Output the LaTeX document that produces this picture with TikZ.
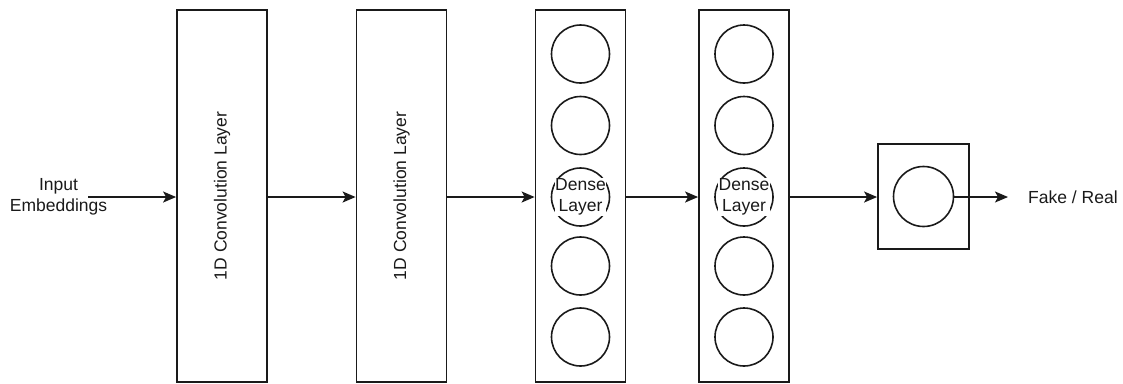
\documentclass[tikz,border=0pt]{standalone}
\usepackage{fontspec}
\setmainfont{Liberation Sans}
\usetikzlibrary{arrows.meta}
\definecolor{ink}{HTML}{1A1A1A}
\begin{document}
\begin{tikzpicture}[x=1pt,y=-1pt,
  every node/.style={font=\fontsize{17.5}{20.5}\selectfont, text=ink},
  layerbox/.style={draw=ink, line width=1.8pt, minimum width=90pt, minimum height=372pt, inner sep=0pt},
  neuron/.style={draw=ink, line width=1.6pt, circle, minimum size=58pt, inner sep=0pt},
  conn/.style={draw=ink, line width=1.6pt, -{Stealth[length=13pt,width=11pt,inset=3pt]}},
  lbl/.style={align=center, inner sep=0pt}
]
\useasboundingbox (0,0) rectangle (1123,383);

% layer boxes
\node[layerbox] (c1) at (222,196) {};
\node[layerbox] (c2) at (401.5,196) {};
\node[layerbox] (d1) at (580.5,196) {};
\node[layerbox] (d2) at (744,196) {};
\node[draw=ink, line width=1.8pt, minimum width=91pt, minimum height=105pt, inner sep=0pt] (o) at (923.5,196.5) {};

\node[rotate=90, inner sep=0pt] (c1t) at (c1.center) {1D Convolution Layer};
\node[rotate=90, inner sep=0pt] (c2t) at (c2.center) {1D Convolution Layer};

% dense 1 neurons
\node[neuron] (a1) at (580.5,54) {};
\node[neuron] (a2) at (580.5,125.5) {};
\node[neuron] (a3) at (580.5,197) {};
\node[neuron] (a4) at (580.5,266) {};
\node[neuron] (a5) at (580.5,337) {};
\node[lbl, fill=white, inner sep=0.5pt] (a3t) at (a3.center) {Dense\\Layer};

% dense 2 neurons
\node[neuron] (b1) at (744,54) {};
\node[neuron] (b2) at (744,125.5) {};
\node[neuron] (b3) at (744,197) {};
\node[neuron] (b4) at (744,266) {};
\node[neuron] (b5) at (744,337) {};
\node[lbl, fill=white, inner sep=0.5pt] (b3t) at (b3.center) {Dense\\Layer};

% output neuron
\node[neuron, minimum size=60pt] (on) at (923.5,196.5) {};

% labels
\node[lbl] (inp) at (58.5,197) {Input\\Embeddings};
\node[lbl, anchor=west] (out) at (1028,197) {Fake / Real};
\coordinate (s) at (88,197);
\coordinate (e) at (1008,197);

% connectors
\draw[conn] (s) -- (s -| c1.west);
\draw[conn] (c1.east |- 0,197) -- (c2.west |- 0,197);
\draw[conn] (c2.east |- 0,197) -- (d1.west |- 0,197);
\draw[conn] (d1.east |- 0,197) -- (d2.west |- 0,197);
\draw[conn] (d2.east |- 0,197) -- (o.west |- 0,197);
\draw[conn] (on.east |- 0,197) -- (e);
\end{tikzpicture}
\end{document}
